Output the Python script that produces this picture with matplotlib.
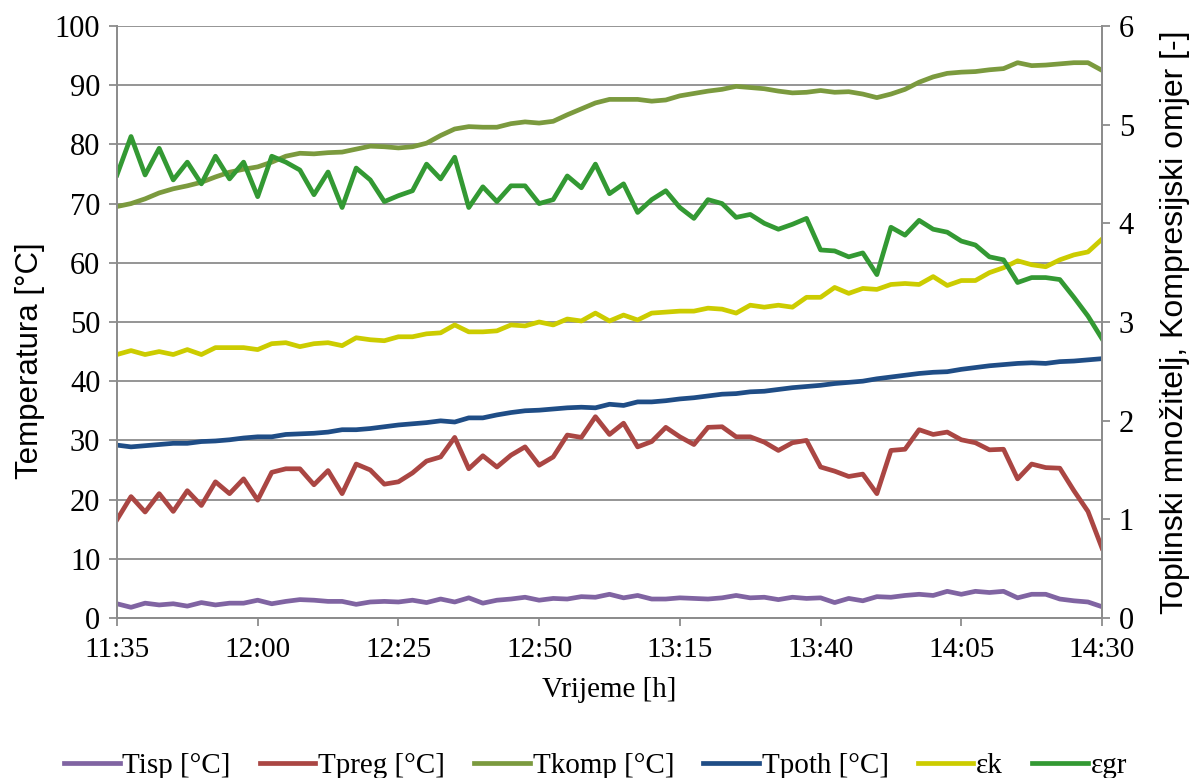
import numpy as np
import matplotlib
matplotlib.use('Agg')
import matplotlib.pyplot as plt

# minutes after 11:35, one reading every 2.5 min
minutes = np.arange(71) * 2.5
tick_minutes = [0, 25, 50, 75, 100, 125, 150, 175]
tick_labels = ['11:35', '12:00', '12:25', '12:50', '13:15', '13:40', '14:05', '14:30']

t_isp = [2.4, 1.8, 2.5, 2.2, 2.4, 2.0, 2.6, 2.2, 2.5, 2.5,
         3.0, 2.4, 2.8, 3.1, 3.0, 2.8, 2.8, 2.3, 2.7, 2.8,
         2.7, 3.0, 2.6, 3.2, 2.7, 3.4, 2.5, 3.0, 3.2, 3.5,
         3.0, 3.3, 3.2, 3.6, 3.5, 4.0, 3.4, 3.8, 3.2, 3.2,
         3.4, 3.3, 3.2, 3.4, 3.8, 3.4, 3.5, 3.1, 3.5, 3.3,
         3.4, 2.6, 3.3, 2.9, 3.6, 3.5, 3.8, 4.0, 3.8, 4.5,
         4.0, 4.5, 4.3, 4.5, 3.4, 4.0, 4.0, 3.2, 2.9, 2.7, 1.9]

t_preg = [16.6, 20.5, 17.9, 21.0, 18.0, 21.5, 19.0, 23.0, 21.0, 23.5,
          19.9, 24.6, 25.2, 25.2, 22.5, 24.9, 21.0, 26.0, 25.0, 22.6,
          23.0, 24.5, 26.5, 27.2, 30.5, 25.2, 27.4, 25.5, 27.5, 28.9,
          25.8, 27.2, 30.9, 30.5, 34.0, 31.0, 32.9, 28.9, 29.8, 32.2,
          30.6, 29.3, 32.2, 32.3, 30.6, 30.6, 29.7, 28.3, 29.6, 30.0,
          25.5, 24.8, 23.9, 24.3, 21.0, 28.3, 28.5, 31.8, 31.0, 31.4,
          30.1, 29.6, 28.4, 28.5, 23.5, 26.0, 25.4, 25.3, 21.5, 18.0, 11.8]

t_komp = [69.5, 70.0, 70.8, 71.8, 72.5, 73.0, 73.6, 74.5, 75.3, 75.8,
          76.2, 77.0, 78.0, 78.5, 78.4, 78.6, 78.7, 79.2, 79.7, 79.6,
          79.4, 79.6, 80.2, 81.5, 82.6, 83.0, 82.9, 82.9, 83.5, 83.8,
          83.6, 83.9, 85.0, 86.0, 87.0, 87.6, 87.6, 87.6, 87.3, 87.5,
          88.2, 88.6, 89.0, 89.3, 89.8, 89.6, 89.4, 89.0, 88.7, 88.8,
          89.1, 88.8, 88.9, 88.5, 87.9, 88.5, 89.3, 90.5, 91.4, 92.0,
          92.2, 92.3, 92.6, 92.8, 93.8, 93.3, 93.4, 93.6, 93.8, 93.8, 92.5]

t_poth = [29.2, 28.9, 29.1, 29.3, 29.5, 29.5, 29.8, 29.9, 30.1, 30.4,
          30.6, 30.6, 31.0, 31.1, 31.2, 31.4, 31.8, 31.8, 32.0, 32.3,
          32.6, 32.8, 33.0, 33.3, 33.1, 33.8, 33.8, 34.3, 34.7, 35.0,
          35.1, 35.3, 35.5, 35.6, 35.5, 36.1, 35.9, 36.5, 36.5, 36.7,
          37.0, 37.2, 37.5, 37.8, 37.9, 38.2, 38.3, 38.6, 38.9, 39.1,
          39.3, 39.6, 39.8, 40.0, 40.4, 40.7, 41.0, 41.3, 41.5, 41.6,
          42.0, 42.3, 42.6, 42.8, 43.0, 43.1, 43.0, 43.3, 43.4, 43.6, 43.8]

eps_k = [2.67, 2.71, 2.67, 2.70, 2.67, 2.72, 2.67, 2.74, 2.74, 2.74,
         2.72, 2.78, 2.79, 2.75, 2.78, 2.79, 2.76, 2.84, 2.82, 2.81,
         2.85, 2.85, 2.88, 2.89, 2.97, 2.90, 2.90, 2.91, 2.97, 2.96,
         3.00, 2.97, 3.03, 3.01, 3.09, 3.01, 3.07, 3.02, 3.09, 3.10,
         3.11, 3.11, 3.14, 3.13, 3.09, 3.17, 3.15, 3.17, 3.15, 3.25,
         3.25, 3.35, 3.29, 3.34, 3.33, 3.38, 3.39, 3.38, 3.46, 3.37,
         3.42, 3.42, 3.50, 3.55, 3.62, 3.58, 3.56, 3.63, 3.68, 3.71, 3.84]

eps_gr = [4.49, 4.88, 4.49, 4.76, 4.44, 4.62, 4.40, 4.68, 4.45, 4.62,
          4.27, 4.68, 4.62, 4.54, 4.29, 4.52, 4.16, 4.56, 4.44, 4.22,
          4.28, 4.33, 4.60, 4.45, 4.67, 4.16, 4.37, 4.22, 4.38, 4.38,
          4.20, 4.24, 4.48, 4.36, 4.60, 4.30, 4.40, 4.11, 4.24, 4.33,
          4.16, 4.05, 4.24, 4.20, 4.06, 4.09, 4.00, 3.94, 3.99, 4.05,
          3.73, 3.72, 3.66, 3.70, 3.48, 3.96, 3.88, 4.03, 3.94, 3.91,
          3.82, 3.78, 3.66, 3.63, 3.40, 3.45, 3.45, 3.43, 3.25, 3.06, 2.83]

gray = '#8c8c8c'
serif = ['Liberation Serif', 'DejaVu Serif']
sans = ['Liberation Sans', 'DejaVu Sans']

fig = plt.figure(figsize=(11.91, 7.78), dpi=100)
ax = fig.add_axes([0.0982, 0.2057, 0.8271, 0.7609])
ax2 = ax.twinx()

lw = 3.4
h1, = ax.plot(minutes, t_isp, color='#8064a2', lw=lw, label='Tisp [°C]')
h2, = ax.plot(minutes, t_preg, color='#aa4643', lw=lw, label='Tpreg [°C]')
h3, = ax.plot(minutes, t_komp, color='#7b9a3e', lw=lw, label='Tkomp [°C]')
h4, = ax.plot(minutes, t_poth, color='#1f4d86', lw=lw, label='Tpoth [°C]')
h5, = ax2.plot(minutes, eps_k, color='#cccc00', lw=lw, label='εk')
h6, = ax2.plot(minutes, eps_gr, color='#339933', lw=lw, label='εgr')

ax.set_xlim(0, 175)
ax.set_ylim(0, 100)
ax2.set_ylim(0, 6)
ax.set_yticks(np.arange(0, 101, 10))
ax2.set_yticks(np.arange(0, 7, 1))
ax.set_xticks(tick_minutes)
ax.set_xticklabels(tick_labels)

ax.grid(axis='y', color=gray, lw=1.3)
ax.set_axisbelow(True)
for a in (ax, ax2):
    a.spines['top'].set_visible(False)
    for s in ('left', 'right', 'bottom'):
        a.spines[s].set_color(gray)
        a.spines[s].set_linewidth(1.3)
    a.tick_params(colors=gray, width=1.3, length=6, labelcolor='black', pad=6)
    a.tick_params(axis='x', pad=8)
    for lab in a.get_xticklabels():
        lab.set_family(serif)
        lab.set_fontsize(21)
    for lab in a.get_yticklabels():
        lab.set_family(serif)
        lab.set_fontsize(22)

ax.set_xlabel('Vrijeme [h]', family=serif, fontsize=21, labelpad=10)
ax.set_ylabel('Temperatura [°C]', family=sans, fontsize=22.5)
ax.yaxis.set_label_coords(-0.073, 0.434)
ax2.set_ylabel('Toplinski množitelj, Kompresijski omjer [-]', family=sans,
               fontsize=23)
ax2.yaxis.set_label_coords(1.059, 0.5)

fig.legend(handles=[h1, h2, h3, h4, h5, h6], loc='center', ncol=6,
           bbox_to_anchor=(0.5, 0.016), frameon=False,
           prop={'family': serif, 'size': 21}, handlelength=1.9,
           handletextpad=0.1, columnspacing=1.0)

fig.savefig('out.png', dpi=100)
